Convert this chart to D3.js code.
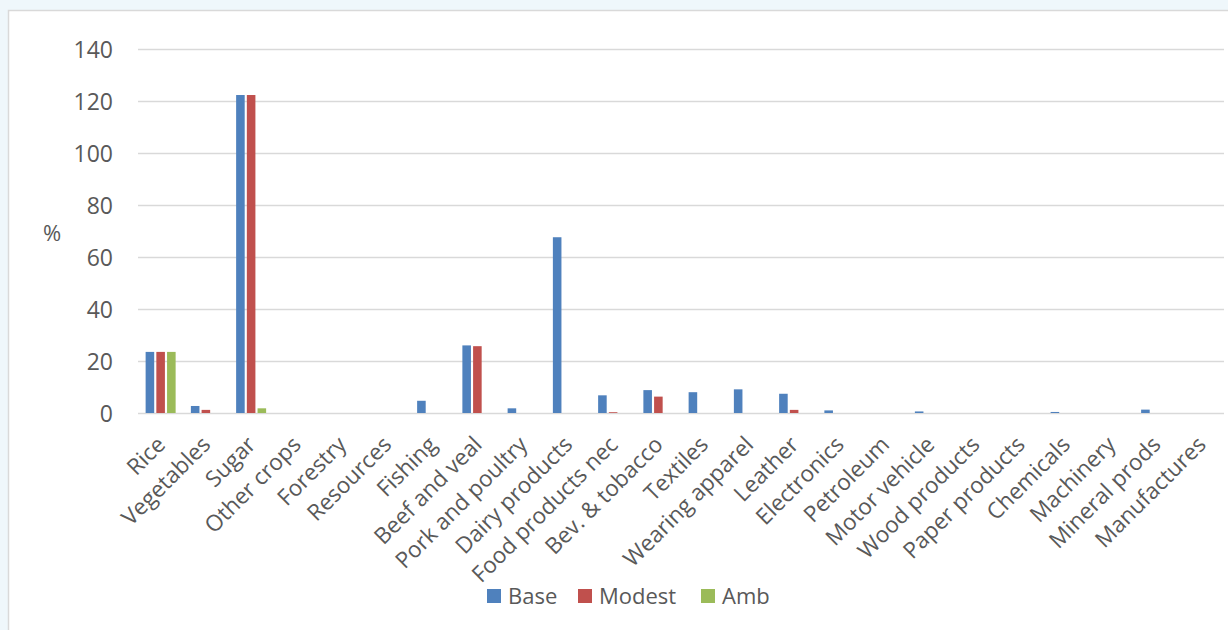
<!DOCTYPE html>
<html>
<head>
<meta charset="utf-8">
<script src="https://cdn.jsdelivr.net/npm/d3@7"></script>
<style>
  html, body { margin: 0; padding: 0; background: #eff7fb; }
  svg { display: block; }
  text { font-family: "Open Sans", sans-serif; fill: #595959; }
</style>
</head>
<body>
<script>
// Sector categories
const categories = [
  "Rice", "Vegetables", "Sugar", "Other crops", "Forestry", "Resources",
  "Fishing", "Beef and veal", "Pork and poultry", "Dairy products",
  "Food products nec", "Bev. & tobacco", "Textiles", "Wearing apparel",
  "Leather", "Electronics", "Petroleum", "Motor vehicle", "Wood products",
  "Paper products", "Chemicals", "Machinery", "Mineral prods", "Manufactures"
];

// Series values (%)
const baseValues   = [23.5, 2.7, 122.3, 0, 0, 0, 4.7, 26.0, 1.8, 67.6, 6.8, 8.8, 8.0, 9.1, 7.4, 1.0, 0, 0.6, 0, 0, 0.4, 0, 1.3, 0];
const modestValues = [23.5, 1.2, 122.3, 0, 0, 0, 0, 25.7, 0, 0, 0.3, 6.3, 0, 0, 1.2, 0, 0, 0, 0, 0, 0, 0, 0, 0];
const ambValues    = [23.5, 0, 1.8, 0, 0, 0, 0, 0, 0, 0, 0, 0, 0, 0, 0, 0, 0, 0, 0, 0, 0, 0, 0, 0];

const seriesNames  = ["Base", "Modest", "Amb"];
const seriesColors = ["#4f81bd", "#c0504d", "#9bbb59"];
const yTicks = [0, 20, 40, 60, 80, 100, 120, 140];

const W = 1228, H = 630;
const margin = { left: 138, right: 4, top: 49, bottom: 217 };

const svg = d3.select("body").append("svg")
  .attr("width", W).attr("height", H);

// chart panel
svg.append("rect")
  .attr("x", 8.5).attr("y", 10.5)
  .attr("width", W + 20).attr("height", H + 20)
  .attr("fill", "#ffffff")
  .attr("stroke", "#d9d9d9").attr("stroke-width", 1.5);

const x = d3.scaleBand()
  .domain(categories)
  .range([margin.left, W - margin.right])
  .paddingInner(0).paddingOuter(0);

const y = d3.scaleLinear()
  .domain([0, 140])
  .range([H - margin.bottom, margin.top]);

// groups of three bars inside each band
const xs = d3.scaleBand()
  .domain(seriesNames)
  .range([-15, 15])
  .paddingInner(0.2);

// gridlines
svg.append("g")
  .selectAll("line")
  .data(yTicks)
  .join("line")
  .attr("x1", margin.left).attr("x2", W - margin.right)
  .attr("y1", d => Math.round(y(d)) + 0.5).attr("y2", d => Math.round(y(d)) + 0.5)
  .attr("stroke", "#d9d9d9").attr("stroke-width", 1.6);

// y axis labels
const yAxis = d3.axisLeft(y).tickValues(yTicks).tickSize(0).tickPadding(0);
const gy = svg.append("g")
  .attr("transform", `translate(${margin.left - 25},0)`)
  .call(yAxis);
gy.select(".domain").remove();
gy.selectAll("text")
  .attr("font-size", 23)
  .attr("font-family", "'Open Sans', sans-serif")
  .attr("fill", "#595959")
  .attr("dy", "0.35em");

// axis title
svg.append("text")
  .attr("x", 52).attr("y", 241)
  .attr("text-anchor", "middle")
  .attr("font-size", 22)
  .text("%");

// bars
const seriesData = [baseValues, modestValues, ambValues];
seriesData.forEach((vals, si) => {
  svg.append("g")
    .selectAll("rect")
    .data(vals.map((v, i) => ({ cat: categories[i], v })))
    .join("rect")
    .filter(d => d.v > 0)
    .attr("x", d => x(d.cat) + x.bandwidth() / 2 + xs(seriesNames[si]))
    .attr("width", xs.bandwidth())
    .attr("y", d => y(d.v))
    .attr("height", d => y(0) - y(d.v))
    .attr("fill", seriesColors[si]);
});

// x axis labels
const xAxis = d3.axisBottom(x).tickSize(0).tickPadding(0);
const gx = svg.append("g")
  .attr("transform", `translate(0,${y(0)})`)
  .call(xAxis);
gx.select(".domain").remove();
gx.selectAll("text")
  .attr("font-size", 22.5)
  .attr("font-family", "'Open Sans', sans-serif")
  .attr("fill", "#595959")
  .attr("text-anchor", "end")
  .attr("dy", 0)
  .attr("transform", "translate(6,33) rotate(-45)");

// legend
const legend = svg.append("g");
const legendX = [487, 578, 701];
seriesNames.forEach((name, i) => {
  legend.append("rect")
    .attr("x", legendX[i]).attr("y", 589)
    .attr("width", 14).attr("height", 14)
    .attr("fill", seriesColors[i]);
  legend.append("text")
    .attr("x", legendX[i] + 21).attr("y", 604)
    .attr("font-size", 22)
    .text(name);
});
</script>
</body>
</html>
